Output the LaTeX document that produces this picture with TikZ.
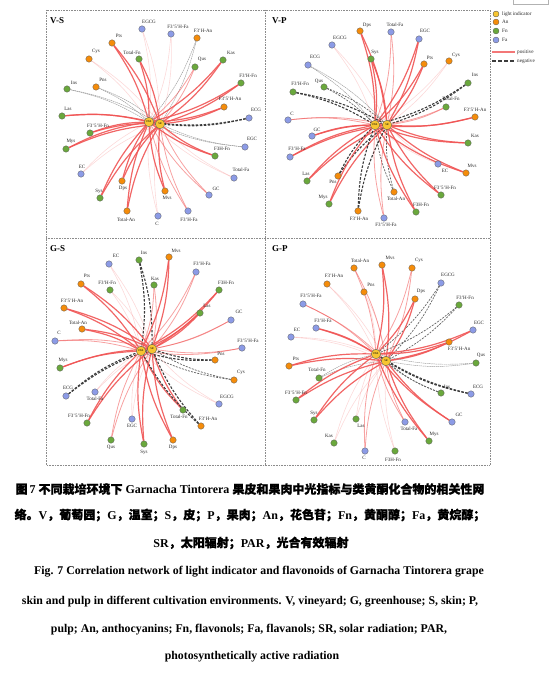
\documentclass[tikz,border=0pt]{standalone}
\usepackage{fontspec}
\setmainfont{Liberation Serif}
\newfontfamily\cjk[FakeBold=1.2]{Noto Sans CJK SC}
\pgfdeclarelayer{bg}
\pgfsetlayers{bg,main}
\definecolor{cy}{RGB}{247,197,49}
\definecolor{co}{RGB}{245,140,10}
\definecolor{cg}{RGB}{106,168,60}
\definecolor{cb}{RGB}{140,155,230}
\definecolor{cr}{RGB}{240,85,85}
\definecolor{cn}{RGB}{60,60,60}
\tikzset{
  nd/.style={circle,draw=black!65,line width=0.3pt,minimum size=6.5pt,inner sep=0pt},
  an/.style={nd,fill=co}, fn/.style={nd,fill=cg}, fa/.style={nd,fill=cb},
  li/.style={circle,draw=black!70,line width=0.35pt,fill=cy,minimum size=9.5pt,inner sep=0pt,font=\fontsize{2.8}{3}\selectfont},
  lbl/.style={font=\fontsize{5}{5}\selectfont,text=black!85,inner sep=0pt},
  leg/.style={font=\fontsize{5.2}{6}\selectfont,text=black!85,inner sep=0pt,anchor=west},
  ttl/.style={font=\bfseries\fontsize{9}{10}\selectfont,inner sep=0pt,anchor=west},
  captxt/.style={font=\bfseries\fontsize{12}{13}\selectfont,inner sep=0pt},
  ecaptxt/.style={font=\bfseries\fontsize{11.8}{13}\selectfont,inner sep=0pt},
  frame/.style={draw=black!45,line width=0.6pt,densely dotted},
  epS/.style={draw=cr,line width=1.2pt,opacity=0.9},
  epM/.style={draw=cr,line width=0.8pt,opacity=0.55},
  epW/.style={draw=cr,line width=0.6pt,opacity=0.22},
  enS/.style={draw=cn,line width=1.1pt,dash pattern=on 2.5pt off 1.5pt},
  enM/.style={draw=cn!80,line width=0.7pt,dash pattern=on 2pt off 1.2pt},
  enW/.style={draw=black!40,line width=0.45pt,dash pattern=on 1.5pt off 0.6pt}
}
% prefix, id, style, x, y, label x, label y, text, edge style
\newcommand\cmp[9]{%
  \node[#3] (#1#2) at (#4,#5) {};
  \node[lbl] (#1#2t) at (#6,#7) {#8};
  \begin{pgfonlayer}{bg}
    \draw[#9] (#1#2) to[bend left=9] (#1PAR);
    \draw[#9] (#1#2) to[bend left=9] (#1SR);
  \end{pgfonlayer}}
\begin{document}
\begin{tikzpicture}[x=1pt,y=-1pt]
\useasboundingbox (0,0) rectangle (550,679);
% frames
\draw[frame] (46,10) rectangle (490,465);
\draw[frame] (265,10) -- (265,465);
\draw[frame] (46,238) -- (490,238);
\draw[black!30,line width=0.4pt] (513,0) -- (513,4) -- (548,4) -- (548,0);
\node[ttl] (tvs) at (50,21) {V-S};
\node[ttl] (tvp) at (272,21) {V-P};
\node[ttl] (tgs) at (50,249) {G-S};
\node[ttl] (tgp) at (272,249) {G-P};
% ---------- V-S
\node[li] (vsPAR) at (149,122) {PAR};
\node[li] (vsSR) at (160,124) {SR};
\cmp{vs}{egcg}{fa}{142}{29}{149}{22}{EGCG}{epW}
\cmp{vs}{f35fa}{fa}{171}{34}{178}{27}{F3'5'H-Fa}{epW}
\cmp{vs}{f3an}{an}{197}{38}{203}{31}{F3'H-An}{enW}
\cmp{vs}{pts}{an}{112}{43}{119}{36}{Pts}{epS}
\cmp{vs}{cys}{an}{89}{59}{96}{51}{Cys}{epW}
\cmp{vs}{tfn}{fn}{139}{59}{132}{53}{Total-Fn}{epS}
\cmp{vs}{qus}{fn}{195}{67}{202}{59}{Qus}{epM}
\cmp{vs}{kas}{fn}{223}{60}{231}{53}{Kas}{epS}
\cmp{vs}{ins}{fn}{67}{89}{74}{83}{Ins}{enW}
\cmp{vs}{pns}{an}{96}{87}{103}{80}{Pns}{enW}
\cmp{vs}{f3fn}{fn}{241}{83}{248}{76}{F3'H-Fn}{epS}
\cmp{vs}{las}{fn}{62}{116}{68}{109}{Las}{epS}
\cmp{vs}{f35an}{an}{224}{107}{230}{99}{F3'5'H-An}{epS}
\cmp{vs}{ecg}{fa}{249}{118}{256}{110}{ECG}{enS}
\cmp{vs}{f35fn}{fn}{90}{133}{98}{126}{F3'5'H-Fn}{epS}
\cmp{vs}{mys}{fn}{66}{149}{71}{141}{Mys}{epS}
\cmp{vs}{egc}{fa}{245}{147}{252}{139}{EGC}{enW}
\cmp{vs}{f3hfn}{fn}{215}{156}{222}{149}{F3H-Fn}{epS}
\cmp{vs}{ec}{fa}{81}{174}{82}{167}{EC}{epW}
\cmp{vs}{tfa}{fa}{234}{178}{241}{170}{Total-Fa}{epW}
\cmp{vs}{dps}{an}{122}{181}{123}{188}{Dps}{epS}
\cmp{vs}{sys}{fn}{100}{198}{99}{191}{Sys}{epS}
\cmp{vs}{gc}{fa}{209}{195}{216}{189}{GC}{epM}
\cmp{vs}{mvs}{an}{165}{191}{167}{198}{Mvs}{epS}
\cmp{vs}{tan}{an}{127}{211}{126}{220}{Total-An}{epS}
\cmp{vs}{c}{fa}{158}{216}{157}{224}{C}{epW}
\cmp{vs}{f3fa}{fa}{188}{211}{189}{220}{F3'H-Fa}{epM}
% ---------- V-P
\node[li] (vpPAR) at (375,125) {PAR};
\node[li] (vpSR) at (387,125) {SR};
\cmp{vp}{dps}{an}{360}{31}{367}{25}{Dps}{epS}
\cmp{vp}{tfa}{fa}{391}{32}{395}{25}{Total-Fa}{epM}
\cmp{vp}{egc}{fa}{419}{39}{425}{31}{EGC}{epS}
\cmp{vp}{egcg}{fa}{332}{45}{340}{38}{EGCG}{epW}
\cmp{vp}{sys}{fn}{371}{59}{375}{52}{Sys}{epS}
\cmp{vp}{ecg}{fa}{308}{65}{315}{57}{ECG}{enW}
\cmp{vp}{pts}{an}{424}{64}{430}{58}{Pts}{epS}
\cmp{vp}{cys}{an}{449}{61}{456}{55}{Cys}{epW}
\cmp{vp}{f3fn}{fn}{293}{92}{300}{84}{F3'H-Fn}{enS}
\cmp{vp}{qus}{fn}{324}{87}{319}{81}{Qus}{enM}
\cmp{vp}{ins}{fn}{468}{83}{475}{75}{Ins}{enS}
\cmp{vp}{tfn}{fn}{446}{107}{451}{99}{Total-Fn}{epM}
\cmp{vp}{f35an}{an}{475}{117}{475}{110}{F3'5'H-An}{epS}
\cmp{vp}{c}{fa}{288}{120}{292}{114}{C}{epM}
\cmp{vp}{gc}{fa}{312}{136}{317}{130}{GC}{epS}
\cmp{vp}{kas}{fn}{468}{143}{475}{136}{Kas}{epS}
\cmp{vp}{f3fa}{fa}{290}{157}{297}{149}{F3'H-Fa}{epS}
\cmp{vp}{ec}{fa}{438}{164}{445}{171}{EC}{epW}
\cmp{vp}{mvs}{an}{466}{173}{472}{166}{Mvs}{epS}
\cmp{vp}{las}{fn}{307}{181}{306}{174}{Las}{epS}
\cmp{vp}{pns}{an}{338}{176}{333}{182}{Pns}{enS}
\cmp{vp}{f35fn}{fn}{441}{195}{445}{188}{F3'5'H-Fn}{epS}
\cmp{vp}{tan}{an}{394}{192}{396}{199}{Total-An}{enM}
\cmp{vp}{mys}{fn}{329}{204}{323}{197}{Mys}{epS}
\cmp{vp}{f3hfn}{fn}{416}{212}{421}{205}{F3H-Fn}{epS}
\cmp{vp}{f3an}{an}{358}{211}{359}{219}{F3'H-An}{enS}
\cmp{vp}{f35fa}{fa}{384}{218}{386}{225}{F3'5'H-Fa}{epM}
% ---------- G-S
\node[li] (gsPAR) at (141,351) {PAR};
\node[li] (gsSR) at (152,349) {SR};
\cmp{gs}{ins}{fn}{139}{260}{144}{253}{Ins}{enS}
\cmp{gs}{mvs}{an}{169}{257}{176}{251}{Mvs}{epS}
\cmp{gs}{ec}{fa}{109}{264}{116}{256}{EC}{epW}
\cmp{gs}{f3fa}{fa}{196}{272}{202}{264}{F3'H-Fa}{epM}
\cmp{gs}{pts}{an}{81}{284}{87}{276}{Pts}{epS}
\cmp{gs}{f3fn}{fn}{110}{290}{107}{283}{F3'H-Fn}{epW}
\cmp{gs}{kas}{fn}{154}{285}{155}{279}{Kas}{epM}
\cmp{gs}{f3hfn}{fn}{219}{290}{226}{283}{F3H-Fn}{epS}
\cmp{gs}{f35an}{an}{64}{308}{72}{301}{F3'5'H-An}{epS}
\cmp{gs}{las}{fn}{200}{313}{207}{306}{Las}{epS}
\cmp{gs}{gc}{fa}{231}{320}{239}{312}{GC}{epM}
\cmp{gs}{tan}{an}{82}{329}{78}{323}{Total-An}{epS}
\cmp{gs}{c}{fa}{55}{341}{59}{333}{C}{epM}
\cmp{gs}{f35fa}{fa}{242}{348}{248}{341}{F3'5'H-Fa}{epM}
\cmp{gs}{pns}{an}{215}{360}{221}{354}{Pns}{enS}
\cmp{gs}{mys}{fn}{60}{368}{63}{360}{Mys}{epS}
\cmp{gs}{cys}{an}{234}{380}{241}{372}{Cys}{enM}
\cmp{gs}{ecg}{fa}{66}{396}{68}{388}{ECG}{enS}
\cmp{gs}{tfa}{fa}{95}{392}{95}{399}{Total-Fa}{epW}
\cmp{gs}{egcg}{fa}{219}{404}{227}{397}{EGCG}{epW}
\cmp{gs}{f35fn}{fn}{87}{423}{79}{416}{F3'5'H-Fn}{epS}
\cmp{gs}{tfn}{fn}{183}{410}{179}{417}{Total-Fn}{epS}
\cmp{gs}{f3an}{an}{201}{426}{208}{419}{F3'H-An}{enS}
\cmp{gs}{egc}{fa}{132}{419}{132}{426}{EGC}{epW}
\cmp{gs}{qus}{fn}{111}{440}{111}{447}{Qus}{epM}
\cmp{gs}{sys}{fn}{144}{444}{144}{452}{Sys}{epS}
\cmp{gs}{dps}{an}{173}{440}{173}{447}{Dps}{epS}
% ---------- G-P
\node[li] (gpPAR) at (376,354) {PAR};
\node[li] (gpSR) at (386,361) {SR};
\cmp{gp}{tan}{an}{354}{268}{360}{261}{Total-An}{epM}
\cmp{gp}{mvs}{an}{382}{265}{390}{258}{Mvs}{epS}
\cmp{gp}{cys}{an}{412}{268}{419}{260}{Cys}{epM}
\cmp{gp}{f3an}{an}{327}{284}{334}{276}{F3'H-An}{epW}
\cmp{gp}{egcg}{fa}{441}{283}{448}{275}{EGCG}{enM}
\cmp{gp}{pns}{an}{364}{292}{371}{285}{Pns}{epW}
\cmp{gp}{dps}{an}{415}{299}{421}{291}{Dps}{epS}
\cmp{gp}{f35fa}{fa}{303}{304}{311}{296}{F3'5'H-Fa}{epM}
\cmp{gp}{f3fn}{fn}{459}{305}{465}{298}{F3'H-Fn}{enM}
\cmp{gp}{f3fa}{fa}{316}{328}{323}{321}{F3'H-Fa}{epS}
\cmp{gp}{ec}{fa}{291}{337}{297}{330}{EC}{epW}
\cmp{gp}{egc}{fa}{473}{330}{479}{323}{EGC}{epS}
\cmp{gp}{f35an}{an}{449}{342}{459}{349}{F3'5'H-An}{epS}
\cmp{gp}{pts}{an}{289}{366}{296}{359}{Pts}{epS}
\cmp{gp}{qus}{fn}{476}{363}{481}{355}{Qus}{enW}
\cmp{gp}{tfn}{fn}{319}{378}{317}{370}{Total-Fn}{enW}
\cmp{gp}{ins}{fn}{441}{393}{447}{387}{Ins}{enM}
\cmp{gp}{ecg}{fa}{471}{394}{478}{387}{ECG}{enS}
\cmp{gp}{f35fn}{fn}{296}{400}{296}{393}{F3'5'H-Fn}{epS}
\cmp{gp}{sys}{fn}{314}{420}{314}{413}{Sys}{epS}
\cmp{gp}{las}{fn}{356}{419}{361}{426}{Las}{epW}
\cmp{gp}{tfa}{fa}{405}{422}{409}{429}{Total-Fa}{epM}
\cmp{gp}{gc}{fa}{452}{422}{459}{415}{GC}{epS}
\cmp{gp}{kas}{fn}{334}{443}{329}{436}{Kas}{epW}
\cmp{gp}{mys}{fn}{429}{441}{434}{434}{Mys}{epS}
\cmp{gp}{c}{fa}{365}{451}{364}{458}{C}{epM}
\cmp{gp}{f3hfn}{fn}{395}{451}{393}{460}{F3H-Fn}{epW}
% ---------- legend
\node[li,minimum size=6pt] (l1) at (496,14) {};
\node[an,minimum size=6pt] (l2) at (496,22) {};
\node[fn,minimum size=6pt] (l3) at (496,31) {};
\node[fa,minimum size=6pt] (l4) at (496,40) {};
\node[leg] (l1t) at (502,14) {light indicator};
\node[leg] (l2t) at (502,22) {An};
\node[leg] (l3t) at (502,31) {Fn};
\node[leg] (l4t) at (502,40) {Fa};
\coordinate (p0) at (492,52);
\coordinate (n0) at (492,61);
\node[leg] (pt) at (517,52) {positive};
\node[leg] (nt) at (517,61) {negative};
\draw[draw=cr!80,line width=1.4pt] (p0) -- ([xshift=-2pt]pt.west);
\draw[draw=cn,line width=1.3pt,dash pattern=on 3.5pt off 2.5pt] (n0) -- ([xshift=-2pt]nt.west);
% ---------- caption
\node[captxt] (c1) at (250,489) {{\cjk 图}\,7\ {\cjk 不同栽培环境下}\ Garnacha Tintorera\ {\cjk 果皮和果肉中光指标与类黄酮化合物的相关性网}};
\node[captxt] (c2) at (250,515) {{\cjk 络。}V{\cjk ，葡萄园；}G{\cjk ，温室；}S{\cjk ，皮；}P{\cjk ，果肉；}An{\cjk ，花色苷；}Fn{\cjk ，黄酮醇；}Fa{\cjk ，黄烷醇；}};
\node[captxt] (c3) at (251,543) {SR{\cjk ，太阳辐射；}PAR{\cjk ，光合有效辐射}};
\node[ecaptxt] (e1) at (259,572) {Fig. 7 Correlation network of light indicator and flavonoids of Garnacha Tintorera grape};
\node[ecaptxt] (e2) at (250,602) {skin and pulp in different cultivation environments. V, vineyard; G, greenhouse; S, skin; P,};
\node[ecaptxt] (e3) at (249,630) {pulp; An, anthocyanins; Fn, flavonols; Fa, flavanols; SR, solar radiation; PAR,};
\node[ecaptxt] (e4) at (252,657) {photosynthetically active radiation};
\end{tikzpicture}
\end{document}
